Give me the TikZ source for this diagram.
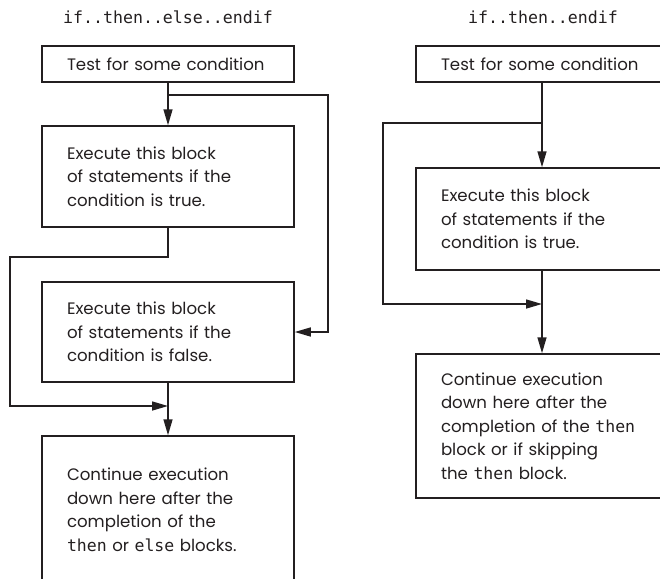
\documentclass[tikz,border=0pt]{standalone}
\usepackage{fontspec}
\setmainfont{Poppins}
\setsansfont{Poppins}
\setmonofont{DejaVu Sans Mono}
\usepackage{tikz}
\usetikzlibrary{positioning,arrows.meta}
\definecolor{ink}{HTML}{231F20}
\newcommand{\kw}[1]{{\ttfamily\fontsize{16.5}{23.5}\selectfont #1}}
\tikzset{
  box/.style ={draw=ink, line width=1.5pt, align=left, text=ink,
               text width=202pt, inner xsep=25pt, inner ysep=0pt,
               font=\fontsize{16.6}{23.5}\selectfont},
  ar/.style  ={-{Triangle[length=16pt,width=9pt]}, draw=ink,
               line width=1.5pt},
  ln/.style  ={draw=ink, line width=1.5pt},
  ttl/.style ={font=\ttfamily\fontsize{16.6}{20}\selectfont, text=ink}
}

\begin{document}
\begin{tikzpicture}[x=1pt,y=-1pt]
\useasboundingbox (0,0) rectangle (660,578);
\clip (0,0) rectangle (660,578);

% if..then..else..endif
\node[ttl] (lttl) at (168,17) {if..then..else..endif};
\node[box, minimum height=36pt] (ltest) at (168,64)
  {Test for some condition};
\node[box, minimum height=101pt] (ltrue) at (168,176.5)
  {Execute this block\\ of statements if the\\ condition is true.};
\node[box, minimum height=100pt] (lfalse) at (168,332)
  {Execute this block\\ of statements if the\\ condition is false.};
\node[box, minimum height=148pt] (lcont) at (168,510)
  {Continue execution\\ down here after the\\ completion of the\\
   \kw{then} or \kw{else} blocks.};

\coordinate (lsplit) at (168,95);
\coordinate (lrail)  at (328,95);
\coordinate (lleft)  at (10,257);
\coordinate (ljoin)  at (168,406);

\draw[ar] (ltest) -- (ltrue);
\draw[ar] (lsplit) -- (lrail) |- (lfalse.east);
\draw[ar] (ltrue.south) |- (lleft) |- (ljoin);
\draw[ar] (lfalse) -- (lcont);

% if..then..endif
\node[ttl] (rttl) at (543,17) {if..then..endif};
\node[box, minimum height=36pt] (rtest) at (542,64)
  {Test for some condition};
\node[box, minimum height=102pt] (rtrue) at (542,219)
  {Execute this block\\ of statements if the\\ condition is true.};
\node[box, minimum height=144pt] (rcont) at (542,426)
  {Continue execution\\ down here after the\\ completion of the \kw{then}\\
   block or if skipping\\ the \kw{then} block.};

\coordinate (rsplit) at (542,123);
\coordinate (rleft)  at (383,123);
\coordinate (rjoin)  at (542,304);

\draw[ar] (rtest) -- (rtrue);
\draw[ar] (rsplit) -- (rleft) |- (rjoin);
\draw[ar] (rtrue) -- (rcont);
\end{tikzpicture}
\end{document}
